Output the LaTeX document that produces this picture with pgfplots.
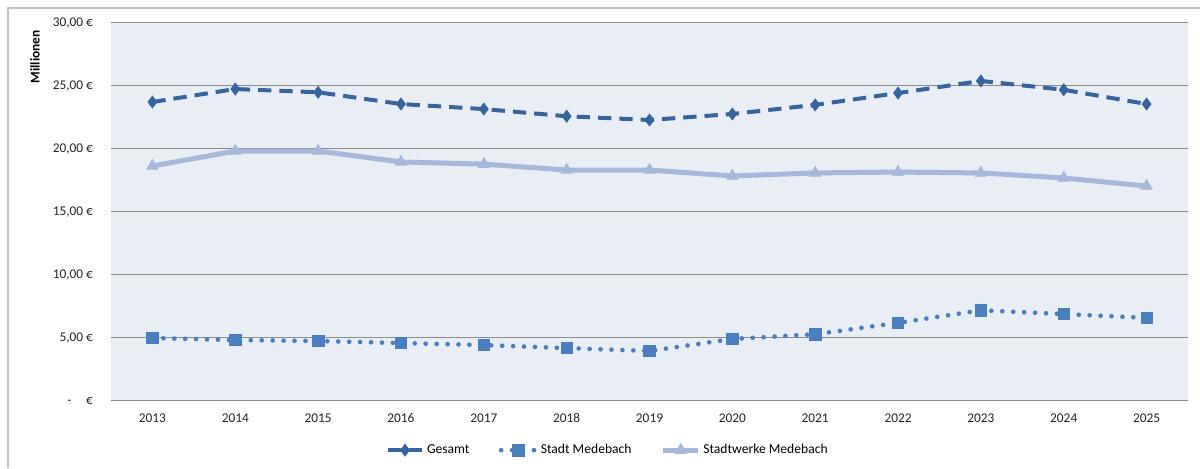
\documentclass[border=0pt]{standalone}
\usepackage{pgfplots}
\pgfplotsset{compat=1.18}
\usepackage{fontspec}
\setmainfont{Carlito}
\definecolor{cGes}{RGB}{56,100,158}
\definecolor{cStadt}{RGB}{74,126,190}
\definecolor{cSW}{RGB}{166,185,219}
\definecolor{cBg}{RGB}{233,237,244}
\definecolor{cGrid}{RGB}{140,140,140}
\definecolor{cFrame}{RGB}{195,195,195}
\begin{document}
\begin{tikzpicture}
\path[use as bounding box] (0,0) rectangle (900pt,351pt);
\fill[white] (0,0) rectangle (900pt,351pt);
\draw[cFrame,line width=1.2pt] (6pt,0) -- (6pt,345pt) -- (900pt,345pt);
\node[rotate=90, font=\fontsize{10}{12}\selectfont\bfseries] at (26.25pt,308.25pt) {Millionen};
\begin{axis}[
  at={(83.25pt,50.25pt)}, anchor=south west,
  width=807.75pt, height=283.5pt, scale only axis,
  xmin=-0.5, xmax=12.5, ymin=0, ymax=30,
  xtick={0,1,2,3,4,5,6,7,8,9,10,11,12},
  xticklabels={2013,2014,2015,2016,2017,2018,2019,2020,2021,2022,2023,2024,2025},
  ytick={0,5,10,15,20,25,30},
  yticklabels={{-\hspace{1.1em}€},{5,00 €},{10,00 €},{15,00 €},{20,00 €},{25,00 €},{30,00 €}},
  axis line style={draw=none},
  ymajorgrids, grid style={cGrid, line width=0.75pt},
  major tick length=0pt,
  axis background/.style={fill=cBg},
  tick label style={font=\fontsize{10}{12}\selectfont, text=black!85},
  yticklabel style={xshift=-10pt},
  xticklabel style={yshift=-6pt},
  legend columns=3,
  legend style={at={(0.4615,-0.13)}, anchor=center, draw=none, fill=none,
    font=\fontsize{10.2}{12}\selectfont,
    /tikz/every even column/.append style={column sep=20pt}},
  legend image code/.code={\draw[mark repeat=2,mark phase=2] plot coordinates {(0pt,0pt) (13pt,0pt) (26pt,0pt)};},
]
\addplot[cGes, line width=3pt, dash pattern=on 10pt off 6pt, mark=diamond*, mark size=4.5pt, mark options={solid, line width=0.5pt}]
coordinates {(0,23.73) (1,24.76) (2,24.5) (3,23.57) (4,23.17) (5,22.6) (6,22.3) (7,22.78) (8,23.5) (9,24.44) (10,25.4) (11,24.7) (12,23.57)};
\addlegendentry{Gesamt}
\addplot[cStadt, line width=3.5pt, dash pattern=on 0pt off 8.2pt, line cap=round, mark=square*, mark size=4.3pt, mark options={solid, line width=0.5pt}]
coordinates {(0,5.0) (1,4.84) (2,4.76) (3,4.6) (4,4.44) (5,4.2) (6,3.97) (7,4.92) (8,5.3) (9,6.2) (10,7.2) (11,6.9) (12,6.6)};
\addlegendentry{Stadt Medebach}
\addplot[cSW, line width=3.75pt, mark=triangle*, mark size=5pt, mark options={solid, line width=0.5pt}]
coordinates {(0,18.65) (1,19.84) (2,19.84) (3,18.97) (4,18.8) (5,18.33) (6,18.33) (7,17.86) (8,18.1) (9,18.17) (10,18.1) (11,17.7) (12,17.06)};
\addlegendentry{Stadtwerke Medebach}
\end{axis}
\end{tikzpicture}
\end{document}
